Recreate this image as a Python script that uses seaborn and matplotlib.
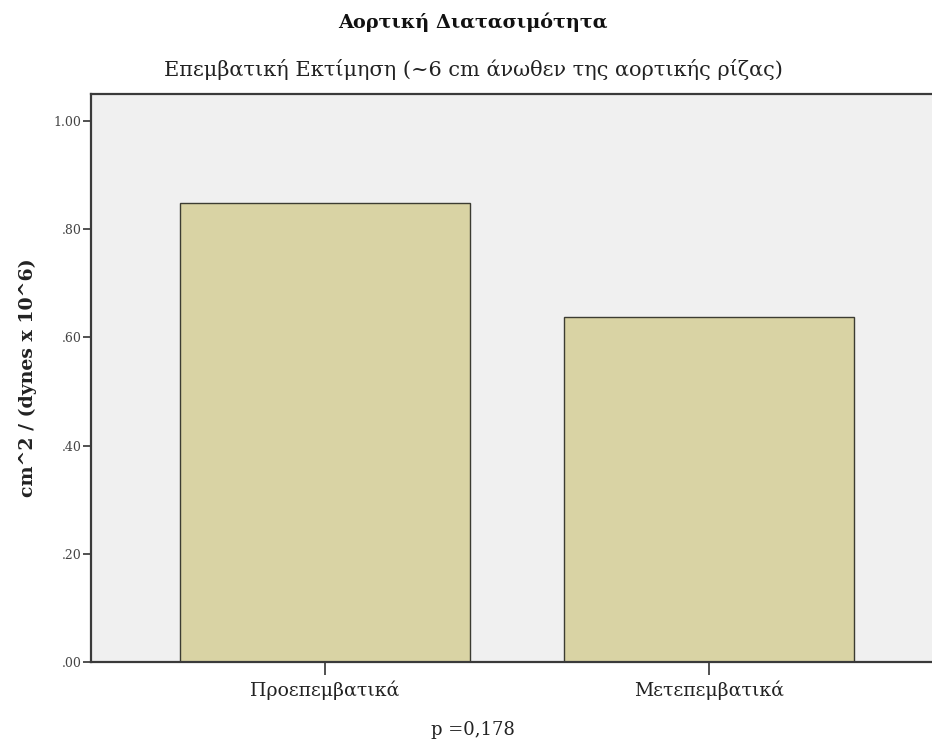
import matplotlib
matplotlib.use("Agg")
import matplotlib.pyplot as plt
import seaborn as sns
import pandas as pd

# Data
categories = ["Προεπεμβατικά", "Μετεπεμβατικά"]
values = [0.849, 0.637]
yticks = [0.0, 0.2, 0.4, 0.6, 0.8, 1.0]
ytick_labels = [".00", ".20", ".40", ".60", ".80", "1.00"]

title = "Αορτική Διατασιμότητα"
subtitle = "Επεμβατική Εκτίμηση (~6 cm άνωθεν της αορτικής ρίζας)"
ylabel = "cm^2 / (dynes x 10^6)"
xlabel = "p =0,178"

sns.set_theme(style="white")
plt.rcParams["font.family"] = ["DejaVu Serif"]

df = pd.DataFrame({"group": categories, "value": values})

fig = plt.figure(figsize=(9.32, 7.44), dpi=100)
ax = fig.add_axes([91 / 932, 1 - 662 / 744, (932 - 91) / 932, (662 - 94) / 744])
ax.set_facecolor("#F0F0F0")

sns.barplot(data=df, x="group", y="value", ax=ax, color="#D9D3A4",
            saturation=1, width=0.755, edgecolor="#3C3C32", linewidth=1.0)

ax.set_xlim(-0.609, 1.581)
ax.set_ylim(0, 1.05)
ax.set_yticks(yticks)
ax.set_yticklabels(ytick_labels, fontsize=9, color="#444444")
ax.tick_params(axis="y", length=6, width=1.2, color="#333333", pad=1, left=True, direction="out")
ax.tick_params(axis="x", length=9, width=1.2, color="#333333", pad=4, bottom=True, direction="out",
               labelsize=13.6, labelcolor="#222222")

for side in ["left", "top", "bottom"]:
    ax.spines[side].set_visible(True)
    ax.spines[side].set_color("#3A3A3A")
    ax.spines[side].set_linewidth(1.6)
ax.spines["right"].set_visible(False)

ax.set_ylabel(ylabel, fontsize=13.6, fontweight="bold", color="#222222")
ax.set_xlabel(xlabel, fontsize=13, color="#222222")
ax.xaxis.set_label_coords((473 - 91) / 841, -0.103)
ax.yaxis.set_label_coords(-0.064, 0.50)

fig.text(473 / 932, 1 - 22 / 744, title, ha="center", va="center",
         fontsize=13.9, fontweight="bold", color="#111111")
fig.text(473 / 932, 1 - 70 / 744, subtitle, ha="center", va="center",
         fontsize=15, color="#222222")

fig.savefig("out.png", dpi=100, facecolor="white")
